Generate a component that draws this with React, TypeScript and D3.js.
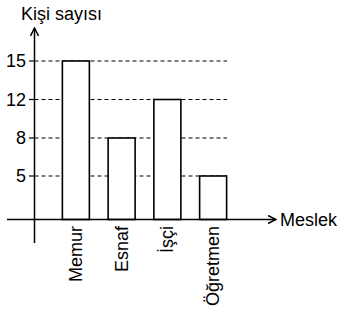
import * as React from "react";
import { scaleBand, scaleLinear } from "d3";

const categories = ["Memur", "Esnaf", "İşçi", "Öğretmen"];
const values = [15, 8, 12, 5];
const yTicks = [5, 8, 12, 15];
const yLevels = [0, 5, 8, 12, 15];

const W = 337;
const H = 315;
const font = "'Liberation Sans', Arial, sans-serif";

const App = () => {
  const axisX = 34.5;
  const axisY = 219.5;

  // the tick spacing in the drawing is even, not proportional
  const y = scaleLinear().domain(yLevels).range([axisY, 176, 138, 99.5, 61]);
  const x = scaleBand<string>()
    .domain(categories)
    .range([39.5, 249.5])
    .paddingInner(0.41)
    .paddingOuter(0.5);

  return (
    <svg
      width={W}
      height={H}
      style={{ position: "absolute", left: 0, top: 0, background: "#fff" }}
      fontFamily={font}
    >
      <defs>
        <marker
          id="arr"
          viewBox="0 0 10 10"
          refX="9"
          refY="5"
          markerWidth="10"
          markerHeight="10"
          markerUnits="userSpaceOnUse"
          orient="auto"
        >
          <path d="M1,1 L9,5 L1,9" fill="none" stroke="#000" strokeWidth="1.5" />
        </marker>
      </defs>

      {/* dashed grid */}
      {yTicks.map(t => (
        <line
          key={"g" + t}
          x1={axisX}
          x2={227}
          y1={y(t)}
          y2={y(t)}
          stroke="#000"
          strokeWidth={1}
          strokeDasharray="4,3"
        />
      ))}

      {/* bars */}
      {categories.map((c, i) => (
        <rect
          key={c}
          x={x(c)}
          y={y(values[i])}
          width={x.bandwidth()}
          height={axisY - y(values[i])}
          fill="#fff"
          stroke="#000"
          strokeWidth={1.6}
        />
      ))}

      {/* axes */}
      <line x1={7} x2={276} y1={axisY} y2={axisY} stroke="#000" strokeWidth={1.5} markerEnd="url(#arr)" />
      <line x1={axisX} x2={axisX} y1={243} y2={28} stroke="#000" strokeWidth={1.5} markerEnd="url(#arr)" />

      {yTicks.map(t => (
        <g key={"t" + t}>
          <line x1={29} x2={axisX} y1={y(t)} y2={y(t)} stroke="#000" strokeWidth={1.2} />
          <text x={26} y={y(t)} textAnchor="end" dominantBaseline="central" fontSize={18}>
            {t}
          </text>
        </g>
      ))}

      <text x={21} y={20} fontSize={18}>
        Kişi sayısı
      </text>
      <text x={280} y={axisY} dominantBaseline="central" fontSize={18}>
        Meslek
      </text>

      {categories.map(c => {
        const cx = (x(c) as number) + x.bandwidth() / 2;
        return (
          <text
            key={"l" + c}
            transform={`translate(${cx},226) rotate(-90)`}
            textAnchor="end"
            dominantBaseline="central"
            fontSize={18}
          >
            {c}
          </text>
        );
      })}
    </svg>
  );
};

export default App;
